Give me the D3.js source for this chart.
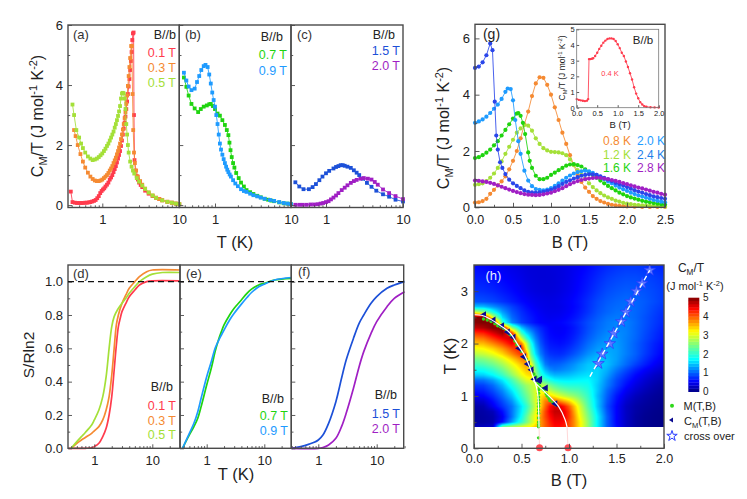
<!DOCTYPE html>
<html><head><meta charset="utf-8">
<script src="https://cdn.jsdelivr.net/npm/d3@7"></script>
<style>html,body{margin:0;padding:0;background:#fff}svg{display:block}text{font-family:"Liberation Sans",Arial,sans-serif;fill:#222}</style>
</head><body><svg id="c" width="747" height="499"></svg>
<script>
// ---- specific heat vs T (panels a-c): [T, CM/T]
const a01=[[.39,.45],[.41,.1],[.44,.08],[.47,.07],[.5,.07],[.53,.07],[.56,.07],[.6,.08],[.63,.08],[.67,.09],[.7,.1],[.74,.12],[.78,.14],[.82,.17],[.86,.23],[.9,.3],[.94,.4],[.98,.47],[1.02,.52],[1.06,.56],[1.1,.62],[1.15,.68],[1.2,.75],[1.25,.85],[1.3,.92],[1.35,1],[1.4,1.1],[1.45,1.2],[1.5,1.3],[1.55,1.42],[1.6,1.55],[1.65,1.67],[1.7,1.8],[1.75,1.97],[1.8,2.15],[1.85,2.35],[1.9,2.55],[1.95,2.75],[2,2.95],[2.05,3.2],[2.1,3.45],[2.15,3.7],[2.2,3.95],[2.25,4.2],[2.3,4.5],[2.35,4.8],[2.4,5.1],[2.45,5.5],[2.5,5.72],[2.55,5.75],[2.58,3],[2.62,1.5],[2.7,1.15],[2.8,.97],[2.9,.85],[3,.75],[3.15,.67],[3.3,.6],[3.6,.48],[4,.38],[4.5,.3],[5,.24],[5.5,.2],[6,.16],[7,.11],[8,.08],[9,.05],[10,.03]];
const a03=[[.43,2.5],[.45,2.3],[.48,2],[.52,1.7],[.56,1.45],[.6,1.25],[.65,1.08],[.7,.95],[.75,.87],[.8,.82],[.85,.8],[.9,.8],[.95,.82],[1,.85],[1.05,.9],[1.1,.95],[1.15,1],[1.2,1.07],[1.25,1.15],[1.3,1.22],[1.35,1.3],[1.4,1.4],[1.45,1.49],[1.5,1.58],[1.55,1.69],[1.6,1.8],[1.65,1.92],[1.7,2.05],[1.75,2.2],[1.8,2.35],[1.85,2.52],[1.9,2.7],[1.95,2.9],[2,3.1],[2.05,3.37],[2.1,3.65],[2.15,3.97],[2.2,4.3],[2.25,4.6],[2.3,4.9],[2.37,5.3],[2.42,5.3],[2.47,3.7],[2.52,2.5],[2.58,1.75],[2.65,1.4],[2.75,1.15],[2.9,.95],[3.1,.8],[3.3,.68],[3.6,.55],[4,.42],[4.5,.32],[5,.25],[5.5,.2],[6,.16],[7,.11],[8,.08],[9,.05],[10,.03]];
const a05=[[.41,3.35],[.43,3],[.46,2.5],[.5,2.25],[.53,2.05],[.56,1.9],[.6,1.75],[.65,1.62],[.7,1.55],[.75,1.5],[.8,1.52],[.85,1.55],[.9,1.6],[.95,1.66],[1,1.72],[1.05,1.8],[1.1,1.88],[1.15,1.97],[1.2,2.05],[1.25,2.15],[1.3,2.25],[1.35,2.35],[1.4,2.45],[1.45,2.58],[1.5,2.7],[1.55,2.83],[1.6,2.97],[1.65,3.12],[1.7,3.3],[1.75,3.55],[1.8,3.72],[1.85,3.74],[1.9,3.72],[1.95,3.55],[2,3.2],[2.05,2.7],[2.1,2.35],[2.15,2],[2.2,1.75],[2.3,1.45],[2.4,1.28],[2.5,1.15],[2.6,1.05],[2.8,.9],[3,.78],[3.3,.65],[3.6,.54],[4,.42],[4.5,.32],[5,.24],[6,.16],[7,.11],[8,.08],[9,.05],[10,.03]];
const b07=[[.39,4.25],[.42,3.94],[.45,3.65],[.49,3.37],[.54,3.22],[.6,3.1],[.65,3.2],[.71,3.28],[.78,3.32],[.84,3.36],[.88,3.37],[.94,3.3],[1,3.2],[1.08,3.05],[1.16,2.98],[1.25,2.83],[1.35,2.67],[1.43,2.5],[1.5,2.33],[1.55,2.08],[1.6,1.83],[1.66,1.6],[1.73,1.4],[1.8,1.25],[1.9,1.07],[2.05,.9],[2.2,.75],[2.4,.62],[2.6,.5],[2.9,.43],[3.2,.37],[3.6,.31],[4,.26],[4.5,.21],[5,.18],[5.5,.15],[6,.13],[7,.09],[8,.06],[9,.05],[10,.03]];
const b09=[[.39,4.41],[.42,4.15],[.45,3.95],[.49,3.83],[.54,3.88],[.58,4.1],[.62,4.3],[.66,4.5],[.71,4.63],[.75,4.67],[.8,4.6],[.84,4.35],[.88,4.05],[.92,3.75],[.96,3.5],[1,3.28],[1.04,3],[1.08,2.7],[1.12,2.35],[1.16,2.05],[1.2,1.85],[1.25,1.68],[1.3,1.53],[1.35,1.4],[1.4,1.28],[1.45,1.18],[1.5,1.1],[1.56,1.02],[1.62,.95],[1.73,.83],[1.85,.72],[2,.63],[2.2,.53],[2.4,.47],[2.6,.44],[2.9,.38],[3.2,.33],[3.6,.29],[4,.25],[4.5,.21],[5.3,.17],[6,.14],[7,.1],[8,.07],[9,.05],[10,.03]];
const c15=[[.4,.76],[.45,.62],[.51,.53],[.6,.53],[.67,.6],[.74,.7],[.82,.83],[.9,.95],[1,1.06],[1.1,1.14],[1.25,1.22],[1.35,1.27],[1.45,1.3],[1.55,1.33],[1.65,1.33],[1.75,1.31],[1.9,1.28],[2.1,1.24],[2.3,1.16],[2.5,1.08],[2.7,1],[3,.88],[3.4,.74],[3.9,.61],[4.5,.48],[5.5,.36],[6.6,.28],[8,.18],[10,.12]];
const c20=[[.4,.01],[.45,.01],[.5,.01],[.56,.01],[.63,.02],[.7,.02],[.78,.03],[.85,.05],[.92,.07],[1,.1],[1.08,.13],[1.16,.19],[1.25,.25],[1.35,.32],[1.45,.4],[1.6,.5],[1.75,.58],[1.9,.66],[2.1,.74],[2.3,.8],[2.5,.84],[2.8,.88],[3.1,.9],[3.5,.88],[3.9,.85],[4.3,.77],[4.7,.68],[5.5,.52],[6.6,.4],[8,.3],[10,.2]];
// ---- specific heat vs B (panel g): [B, CM/T]
const g08=[[0,.17],[.05,.18],[.1,.22],[.15,.3],[.2,.48],[.25,.62],[.3,.78],[.35,.92],[.4,1.1],[.45,1.35],[.5,1.65],[.55,2],[.6,2.45],[.65,2.95],[.7,3.4],[.75,3.95],[.8,4.4],[.85,4.62],[.9,4.6],[.95,4.35],[1,4],[1.05,3.55],[1.1,3.1],[1.15,2.65],[1.2,2.25],[1.25,1.85],[1.3,1.5],[1.35,1.15],[1.4,.9],[1.45,.7],[1.5,.55],[1.55,.4],[1.6,.3],[1.65,.22],[1.7,.17],[1.75,.12],[1.8,.09],[1.85,.07],[1.9,.05],[1.95,.04],[2,.03],[2.1,.02],[2.2,.01],[2.3,.01],[2.4,.01],[2.5,.01]];
const g12=[[0,.8],[.05,.82],[.1,.85],[.15,.93],[.2,1.05],[.25,1.2],[.3,1.4],[.35,1.63],[.4,1.9],[.45,2.15],[.5,2.4],[.55,2.65],[.6,2.8],[.65,2.92],[.7,2.9],[.75,2.72],[.8,2.45],[.85,2.25],[.9,2.1],[.95,2.02],[1,1.97],[1.05,1.96],[1.1,1.95],[1.15,1.92],[1.2,1.85],[1.25,1.7],[1.3,1.5],[1.35,1.32],[1.4,1.15],[1.45,1],[1.5,.85],[1.55,.72],[1.6,.6],[1.65,.5],[1.7,.42],[1.75,.35],[1.8,.3],[1.85,.24],[1.9,.2],[1.95,.16],[2,.13],[2.05,.11],[2.1,.09],[2.15,.08],[2.2,.07],[2.25,.06],[2.3,.05],[2.35,.04],[2.4,.04],[2.45,.03],[2.5,.03]];
const g16=[[0,1.75],[.05,1.78],[.1,1.85],[.15,1.94],[.2,2.05],[.25,2.2],[.3,2.35],[.35,2.55],[.4,2.75],[.45,2.95],[.5,3.15],[.55,3.33],[.57,3.35],[.6,3.25],[.63,3],[.66,2.6],[.7,1.95],[.72,1.65],[.75,1.4],[.8,1.12],[.85,1],[.9,1],[.95,1.05],[1,1.15],[1.05,1.23],[1.1,1.32],[1.15,1.4],[1.2,1.48],[1.25,1.52],[1.3,1.53],[1.35,1.5],[1.4,1.45],[1.45,1.35],[1.5,1.25],[1.55,1.15],[1.6,1.05],[1.65,.95],[1.7,.85],[1.75,.76],[1.8,.68],[1.85,.6],[1.9,.52],[1.95,.46],[2,.4],[2.05,.35],[2.1,.31],[2.15,.27],[2.2,.23],[2.25,.2],[2.3,.18],[2.35,.15],[2.4,.13],[2.45,.11],[2.5,.1]];
const g20=[[0,3],[.05,3.05],[.1,3.12],[.15,3.22],[.2,3.35],[.25,3.5],[.3,3.65],[.35,3.85],[.4,4.1],[.43,4.22],[.47,4.2],[.5,3.8],[.53,3.1],[.57,2.35],[.6,1.9],[.65,1.3],[.7,.95],[.75,.75],[.8,.65],[.85,.62],[.9,.6],[.95,.63],[1,.68],[1.05,.76],[1.1,.85],[1.15,.95],[1.2,1.05],[1.25,1.13],[1.3,1.2],[1.35,1.25],[1.4,1.28],[1.45,1.3],[1.5,1.28],[1.55,1.22],[1.6,1.15],[1.65,1.08],[1.7,1],[1.75,.92],[1.8,.85],[1.85,.77],[1.9,.7],[1.95,.64],[2,.58],[2.05,.52],[2.1,.47],[2.15,.42],[2.2,.38],[2.25,.34],[2.3,.3],[2.35,.26],[2.4,.23],[2.45,.2],[2.5,.18]];
const g24=[[0,4.95],[.05,5],[.1,5.15],[.15,5.4],[.2,5.82],[.23,5.58],[.26,3.75],[.28,2.55],[.3,2.05],[.33,1.6],[.36,1.4],[.4,1.18],[.45,.98],[.5,.85],[.55,.76],[.6,.68],[.65,.6],[.7,.55],[.75,.53],[.8,.52],[.85,.53],[.9,.55],[.95,.58],[1,.62],[1.05,.68],[1.1,.75],[1.15,.83],[1.2,.9],[1.25,.96],[1.3,1.02],[1.35,1.07],[1.4,1.12],[1.45,1.15],[1.5,1.17],[1.55,1.17],[1.6,1.15],[1.65,1.1],[1.7,1.05],[1.75,.99],[1.8,.93],[1.85,.87],[1.9,.82],[1.95,.77],[2,.72],[2.05,.66],[2.1,.61],[2.15,.56],[2.2,.52],[2.25,.47],[2.3,.43],[2.35,.39],[2.4,.36],[2.45,.33],[2.5,.3]];
const g28=[[0,.95],[.05,.94],[.1,.92],[.15,.9],[.2,.87],[.25,.83],[.3,.78],[.35,.73],[.4,.68],[.45,.63],[.5,.58],[.55,.54],[.6,.5],[.65,.47],[.7,.45],[.75,.44],[.8,.43],[.85,.44],[.9,.46],[.95,.49],[1,.52],[1.05,.57],[1.1,.62],[1.15,.68],[1.2,.75],[1.25,.82],[1.3,.88],[1.35,.93],[1.4,.97],[1.45,1],[1.5,1.02],[1.55,1.04],[1.6,1.05],[1.65,1.04],[1.7,1.02],[1.75,1],[1.8,.97],[1.85,.94],[1.9,.9],[1.95,.86],[2,.82],[2.05,.78],[2.1,.74],[2.15,.7],[2.2,.67],[2.25,.63],[2.3,.59],[2.35,.55],[2.4,.52],[2.45,.48],[2.5,.45]];
const inset04=[[0,.55],[.05,.5],[.1,.47],[.15,.44],[.2,.42],[.25,.45],[.28,.55],[.3,3.1],[.33,3.1],[.37,3.12],[.4,3.15],[.45,3.3],[.5,3.5],[.55,3.75],[.6,3.95],[.65,4.15],[.7,4.28],[.75,4.38],[.8,4.42],[.85,4.42],[.9,4.38],[.95,4.25],[1,4.05],[1.05,3.8],[1.1,3.5],[1.15,3.3],[1.2,2.95],[1.25,2.6],[1.3,2.2],[1.35,1.8],[1.4,1.3],[1.45,.9],[1.5,.6],[1.55,.35],[1.6,.2],[1.65,.1],[1.7,.06],[1.8,.03],[1.9,.02],[2,.01]];
// ---- entropy (panels d-f): [T, S/Rln2]
const d01=[[.36,0],[.7,0],[.9,.003],[1,.01],[1.2,.03],[1.4,.07],[1.6,.12],[1.8,.2],[2,.31],[2.2,.47],[2.4,.62],[2.6,.73],[2.8,.78],[3,.82],[3.5,.87],[4,.91],[5,.95],[6,.98],[8,1],[10,1.005],[30,1.005]];
const d03=[[.4,0],[.5,.03],[.6,.05],[.7,.065],[.9,.09],[1,.105],[1.2,.13],[1.4,.17],[1.6,.23],[1.8,.31],[2,.44],[2.2,.6],[2.4,.74],[2.6,.8],[3,.87],[3.5,.92],[4,.96],[5,1],[6,1.03],[8,1.06],[10,1.07],[30,1.07]];
const d05=[[.4,0],[.5,.04],[.6,.07],[.7,.095],[.9,.14],[1,.17],[1.2,.23],[1.4,.31],[1.6,.43],[1.8,.6],[2,.73],[2.2,.79],[2.5,.83],[3,.87],[3.5,.9],[4,.93],[5,.97],[6,1],[8,1.03],[10,1.045],[15,1.055],[30,1.055]];
const e07=[[.38,0],[.5,.08],[.6,.13],[.7,.18],[.8,.25],[1,.38],[1.2,.48],[1.4,.58],[1.6,.65],[1.8,.7],[2,.74],[2.5,.8],[3,.84],[4,.89],[5,.93],[6,.955],[8,.98],[10,.99],[15,1.01],[30,1.02]];
const e09=[[.38,0],[.5,.09],[.6,.15],[.7,.22],[.8,.3],[1,.43],[1.2,.52],[1.4,.6],[1.6,.645],[1.8,.68],[2,.71],[2.5,.77],[3,.81],[4,.865],[5,.905],[6,.935],[8,.97],[10,.985],[15,1.01],[30,1.025]];
const f15=[[.35,0],[.5,.01],[.7,.025],[.85,.036],[1,.05],[1.2,.08],[1.5,.15],[2,.28],[2.5,.42],[3,.53],[4,.66],[5,.75],[6,.8],[8,.87],[10,.91],[15,.96],[20,.98],[30,1]];
const f20=[[.35,0],[1,0],[1.2,.005],[1.5,.02],[2,.06],[2.5,.13],[3,.21],[4,.36],[5,.49],[6,.58],[8,.69],[10,.76],[15,.85],[20,.9],[30,.94]];
// ---- phase diagram (panel h)
const mapB=[0,.1,.2,.3,.4,.5,.55,.6,.65,.7,.75,.8,.85,.9,.95,1,1.05,1.1,1.2,1.3,1.4,1.5,1.6,1.7,1.8,1.9,2];
const mapT=[.4,.5,.6,.7,.8,.9,1,1.1,1.2,1.3,1.4,1.5,1.6,1.7,1.8,1.9,2,2.1,2.2,2.3,2.4,2.5,2.6,2.7,2.8,3,3.25,3.5];
const mapC=[
[.3,.3,.35,2.6,2.9,3.1,3.2,3.3,3.5,3.7,4,4.2,4.4,4.4,4.3,4.1,3.8,3.4,2.6,1.7,1,.6,.3,.15,.08,.05,.03],
[.15,.15,.2,.6,1.3,2,2.4,2.8,3.2,3.7,4,4.3,4.5,4.5,4.4,4.1,3.8,3.4,2.6,1.7,1,.55,.3,.15,.08,.05,.03],
[.12,.15,.2,.5,1.1,1.8,2.3,2.8,3.2,3.7,4.1,4.4,4.6,4.6,4.5,4.2,3.8,3.3,2.5,1.7,1,.55,.3,.15,.08,.05,.03],
[.14,.17,.25,.6,1.1,1.7,2.1,2.6,3.1,3.6,4.1,4.5,4.7,4.7,4.5,4.2,3.7,3.2,2.4,1.6,.95,.55,.3,.17,.1,.06,.04],
[.17,.22,.48,.78,1.1,1.65,2,2.45,2.95,3.4,3.95,4.4,4.62,4.6,4.35,4,3.55,3.1,2.25,1.5,.9,.55,.3,.18,.12,.08,.05],
[.3,.35,.6,.9,1.25,1.85,2.2,2.6,3,3.4,3.8,4,4,3.8,3.6,3.4,3.1,2.8,2.15,1.5,.95,.6,.35,.22,.15,.1,.06],
[.5,.55,.75,1.05,1.45,2.05,2.35,2.65,3,3.3,3.5,3.4,3.2,3,2.85,2.7,2.6,2.45,2.05,1.45,1,.65,.42,.27,.18,.12,.08],
[.65,.7,.9,1.2,1.65,2.2,2.5,2.75,3,3.1,3,2.85,2.65,2.5,2.4,2.3,2.25,2.2,1.95,1.5,1.05,.75,.5,.35,.24,.16,.1],
[.8,.85,1.05,1.4,1.9,2.4,2.65,2.8,2.92,2.9,2.72,2.45,2.25,2.1,2.02,1.97,1.96,1.95,1.85,1.5,1.15,.85,.6,.42,.3,.2,.13],
[1.05,1.1,1.3,1.65,2.15,2.75,3,3.1,2.7,2.4,2.1,1.9,1.75,1.7,1.68,1.68,1.7,1.72,1.75,1.55,1.2,.9,.68,.5,.36,.26,.18],
[1.5,1.55,1.75,2.1,2.6,3.1,3.3,3.4,2.6,2,1.7,1.5,1.4,1.4,1.42,1.45,1.5,1.55,1.62,1.55,1.3,1,.78,.58,.44,.32,.24],
[1.8,1.85,2.05,2.4,2.85,3.3,3.5,3.5,2.4,1.8,1.4,1.2,1.12,1.15,1.2,1.25,1.32,1.4,1.52,1.55,1.38,1.12,.9,.7,.54,.42,.32],
[2.1,2.2,2.4,2.7,3.1,3.5,3.7,3.2,2.2,1.6,1.15,1,1,1.02,1.08,1.15,1.22,1.32,1.48,1.53,1.45,1.25,1.05,.85,.68,.52,.4],
[2.4,2.5,2.7,3,3.4,3.8,3.9,2.7,1.9,1.35,1,.9,.86,.87,.92,1,1.08,1.16,1.36,1.45,1.42,1.3,1.1,.95,.76,.6,.46],
[2.8,2.9,3.1,3.4,3.8,4.2,3.8,2.3,1.6,1.15,.9,.78,.75,.74,.78,.85,.93,1.02,1.22,1.35,1.38,1.3,1.15,1,.82,.66,.52],
[3.1,3.2,3.4,3.7,4.1,4.4,3.2,2.1,1.45,1.05,.82,.7,.68,.67,.7,.76,.84,.92,1.12,1.27,1.33,1.3,1.15,1,.84,.68,.55],
[3.5,3.55,3.8,4.1,4.5,3.8,2.9,1.9,1.3,.95,.75,.65,.62,.6,.63,.68,.76,.85,1.05,1.2,1.28,1.28,1.15,1,.85,.7,.58],
[3.8,3.9,4.2,4.5,4.7,2.9,2.1,1.55,1.15,.87,.7,.6,.57,.56,.58,.63,.7,.79,.98,1.13,1.23,1.25,1.15,1.03,.88,.75,.62],
[4.2,4.3,4.6,4.9,4.2,2.1,1.6,1.3,1,.8,.66,.57,.54,.53,.55,.6,.66,.74,.93,1.08,1.18,1.22,1.16,1.04,.9,.77,.65],
[4.7,4.8,5,5,2.6,1.5,1.2,1,.85,.72,.62,.55,.52,.52,.54,.58,.64,.72,.9,1.04,1.14,1.18,1.15,1.04,.92,.8,.68],
[4.95,5,5,2.05,1.18,.85,.76,.68,.6,.55,.53,.52,.53,.55,.58,.62,.68,.75,.9,1.02,1.12,1.17,1.15,1.05,.93,.82,.72],
[5,5,3,1.6,1.05,.8,.72,.65,.58,.53,.5,.48,.49,.5,.53,.57,.62,.68,.84,.97,1.08,1.12,1.1,1.03,.93,.83,.73],
[3,2.6,1.9,1.3,.95,.75,.67,.6,.55,.5,.47,.46,.46,.47,.5,.53,.58,.64,.78,.93,1.02,1.08,1.09,1.03,.95,.85,.76],
[1.5,1.45,1.25,1.05,.85,.68,.6,.55,.5,.47,.45,.44,.44,.45,.48,.52,.56,.61,.76,.9,1,1.05,1.06,1.03,.96,.87,.79],
[.95,.92,.87,.78,.68,.58,.54,.5,.47,.45,.44,.43,.44,.46,.49,.52,.57,.62,.75,.88,.97,1.02,1.05,1.02,.97,.9,.82],
[.78,.76,.72,.65,.58,.5,.46,.43,.41,.4,.39,.39,.4,.42,.45,.48,.52,.57,.68,.8,.9,.95,.98,.97,.93,.88,.82],
[.68,.66,.62,.56,.5,.45,.42,.4,.39,.38,.38,.38,.39,.41,.43,.46,.5,.54,.63,.73,.82,.87,.9,.9,.87,.83,.78],
[.58,.56,.53,.48,.44,.41,.39,.38,.38,.38,.38,.39,.4,.41,.43,.45,.48,.5,.57,.65,.72,.77,.8,.8,.78,.75,.7]];
const phaseA=[[0,2.55],[.08,2.54],[.17,2.47],[.28,2.34],[.38,2.2],[.46,1.98],[.54,1.75],[.58,1.58],[.62,1.37],[.65,1.22],[.67,1.05],[.68,.73],[.685,.4]];
const phaseA2=[[.685,.4],[.69,0]];
const phaseB=[[.62,1.3],[.65,1.24],[.76,1.05],[.89,.8],[.96,.54],[.98,.4]];
const phaseB2=[[.98,.4],[.99,0]];
const crossDash=[[1.22,1.37],[1.85,3.4]];
const mPts=[[.1,2.47],[.14,2.45],[.18,2.42],[.22,2.38],[.25,2.34],[.28,2.32],[.31,2.29],[.34,2.24],[.36,2.2],[.38,2.17],[.4,2.13],[.43,2.05],[.45,1.98],[.48,1.91],[.5,1.85],[.53,1.77],[.55,1.7],[.57,1.63],[.59,1.56],[.61,1.49],[.63,1.42],[.65,1.36],[.66,1.3],[.68,1.24],[.69,1.18],[.72,1.14],[.74,1.11],[.76,1.04],[.77,1],[.79,.95],[.8,.91],[.83,.87],[.86,.83],[.68,1.12],[.68,1.05],[.68,.98],[.68,.92],[.68,.86],[.68,.8],[.68,.73],[.68,.67],[.68,.58],[.68,.5],[.68,.45],[.68,.41],[.68,.2]];
const cPts=[[.1,2.55],[.2,2.45],[.29,2.34],[.35,2.22],[.41,2.12],[.47,1.91],[.52,1.75],[.56,1.61],[.6,1.5],[.63,1.32],[.68,1.29],[.69,1.32],[.75,1.15],[.85,.85]];
const crossPts=[[1.31,1.62],[1.35,1.8],[1.43,2],[1.47,2.2],[1.55,2.42],[1.6,2.6],[1.65,2.8],[1.71,3],[1.77,3.15],[1.85,3.4]];
const criticalB=[.69,.99];
const jetStops=[0,.11,.35,.5,.64,.89,1];
const jetColors=["#00007f","#0000ff","#00ffff","#7fff7f","#ffff00","#ff0000","#7f0000"];
const cbTicks=[0,1,2,3,4,5];
// ---- colours
const col={r:"#ff3b4d",o:"#f58a32",l:"#a4e038",g:"#1fd40f",s:"#1e9bff",b:"#1c50d8",p:"#a01fc4",gb:"#2a46ea"};

const svg=d3.select("#c");
const AXC="#4a4a4a";
function rich(sel,parts,size){
  parts.forEach(([t,k],i)=>{
    const s=sel.append("tspan").text(t).attr("font-size",k?size*.68:size);
    const d=k==="sub"?size*.28:k==="sup"?-size*.38:0;
    const prev=i?parts[i-1][1]:null;
    const pd=prev==="sub"?size*.28:prev==="sup"?-size*.38:0;
    if(d-pd) s.attr("dy",d-pd);
  });
}
function txt(x,y,t,o={}){
  const e=svg.append("text").attr("x",x).attr("y",y).attr("font-size",o.size||13).attr("text-anchor",o.anchor||"start").attr("fill",o.fill||"#222").style("fill",o.fill||"#222").text(t);
  if(o.rot) e.attr("transform",`rotate(${o.rot} ${x} ${y})`);
  return e;
}
function cmLabel(x,y,size,rot=-90){
  const e=svg.append("text").attr("transform",`translate(${x},${y}) rotate(${rot})`).attr("text-anchor","middle");
  rich(e,[["C"],["M","sub"],["/T (J mol"],["-1","sup"],[" K"],["-2","sup"],[")"]],size);
}
function st(s){s.select(".domain").remove();s.selectAll("line").attr("stroke",AXC).attr("stroke-width",.9);s.selectAll("text").attr("font-family",'"Liberation Sans",Arial,sans-serif').style("fill","#222");}
function logAxes(g,x,y,L,R,T,B,showY,yt,ytm,fmt,xt,tick=4){
  const lbl=[1,10];
  const minor=xt.filter(v=>!lbl.includes(v));
  g.append("g").attr("transform",`translate(0,${B})`).call(d3.axisBottom(x).tickValues(minor).tickSize(-tick*.55).tickFormat("")).call(st);
  g.append("g").attr("transform",`translate(0,${B})`).call(d3.axisBottom(x).tickValues(lbl).tickSize(-tick).tickPadding(5).tickFormat(d3.format("d"))).call(st).selectAll("text").attr("font-size",13).attr("dy","0.9em");
  g.append("g").attr("transform",`translate(${L},0)`).call(d3.axisLeft(y).tickValues(ytm).tickSize(-tick*.55).tickFormat("")).call(st);
  const ax=g.append("g").attr("transform",`translate(${L},0)`).call(d3.axisLeft(y).tickValues(yt).tickSize(-tick).tickPadding(5).tickFormat(showY?fmt:"")).call(st);
  ax.selectAll("text").attr("font-size",13);
  g.append("rect").attr("x",L).attr("y",T).attr("width",R-L).attr("height",B-T).attr("fill","none").attr("stroke",AXC).attr("stroke-width",1.4);
}
function series(g,x,y,data,c,shape,r){
  g.append("path").datum(data).attr("fill","none").attr("stroke",c).attr("stroke-opacity",.85).attr("stroke-width",1).attr("d",d3.line().x(d=>x(d[0])).y(d=>y(d[1])));
  const s=g.selectAll(null).data(data);
  if(shape==="sq") s.enter().append("rect").attr("x",d=>x(d[0])-r).attr("y",d=>y(d[1])-r).attr("width",2*r).attr("height",2*r).attr("fill",c);
  else s.enter().append("circle").attr("cx",d=>x(d[0])).attr("cy",d=>y(d[1])).attr("r",r).attr("fill",c);
}
function smooth(g,x,y,data,c){
  g.append("path").datum(data).attr("fill","none").attr("stroke",c).attr("stroke-width",1.7).attr("d",d3.line().curve(d3.curveCatmullRom.alpha(.5)).x(d=>x(d[0])).y(d=>y(d[1])));
}
function legend(rx,items,size=12.5){items.forEach(([t,yy,c])=>txt(rx,yy,t,{anchor:"end",size,fill:c}));}

// ------- a,b,c
const minorT=[.4,.5,.6,.7,.8,.9,2,3,4,5,6,7,8,9];
const yAC=d3.scaleLinear().domain([-.08,6]).range([207.5,25]);
const acTicks=[0,2,4,6], acMinor=[1,3,5];
[
 {L:68,R:179.3,one:102.3,id:"(a)",idx:73,sets:[[a01,col.r],[a03,col.o],[a05,col.l]]},
 {L:179.3,R:291,one:215,id:"(b)",idx:185,sets:[[b07,col.g],[b09,col.s]]},
 {L:291,R:403,one:326,id:"(c)",idx:297,sets:[[c15,col.b],[c20,col.p]]}
].forEach((p,i)=>{
  const dec=p.R-p.one;
  const x=d3.scaleLog().domain([Math.pow(10,(p.L-p.one)/dec),10]).range([p.L,p.R]);
  const g=svg.append("g");
  p.sets.forEach(([d,c])=>series(g,x,yAC,d,c,"sq",1.9));
  logAxes(g,x,yAC,p.L,p.R,25,207.5,i===0,acTicks,acMinor,d3.format("d"),minorT);
  txt(p.idx,39,p.id,{size:13,fill:"#333"});
});
legend(176,[["B//b",39,"#222"],["0.1 T",57,col.r],["0.3 T",72,col.o],["0.5 T",87,col.l]]);
legend(283,[["B//b",41,"#222"]]);legend(287,[["0.7 T",59,col.g],["0.9 T",75,col.s]]);
legend(395,[["B//b",39,"#222"]]);legend(400,[["1.5 T",55,col.b],["2.0 T",70,col.p]]);
cmLabel(43,116,16);
txt(235,248,"T (K)",{size:16.5,anchor:"middle"});

// ------- d,e,f
const yDF=d3.scaleLinear().domain([0,1.1]).range([448.3,265]);
const dfTicks=[0,.2,.4,.6,.8,1], dfMinor=[.1,.3,.5,.7,.9];
const minorS=[.4,.5,.6,.7,.8,.9,2,3,4,5,6,7,8,9,20,30];
[
 {L:68,R:180,one:94.3,ten:152.3,id:"(d)",idx:73,idy:278,sets:[[d01,col.r],[d03,col.o],[d05,col.l]]},
 {L:180,R:291.3,one:206.7,ten:264.3,id:"(e)",idx:186,idy:278,sets:[[e07,col.g],[e09,col.s]]},
 {L:291.3,R:403.7,one:318.3,ten:376.7,id:"(f)",idx:298,idy:276,sets:[[f15,col.b],[f20,col.p]]}
].forEach((p,i)=>{
  const dec=p.ten-p.one;
  const x=d3.scaleLog().domain([Math.pow(10,(p.L-p.one)/dec),Math.pow(10,(p.R-p.one)/dec)]).range([p.L,p.R]);
  const g=svg.append("g");
  p.sets.forEach(([d,c])=>smooth(g,x,yDF,d,c));
  logAxes(g,x,yDF,p.L,p.R,265,448.3,i===0,dfTicks,dfMinor,d3.format(".1f"),minorS);
  txt(p.idx,p.idy,p.id,{size:13,fill:"#333"});
});
svg.append("line").attr("x1",68).attr("x2",403.7).attr("y1",yDF(1)).attr("y2",yDF(1)).attr("stroke","#111").attr("stroke-width",1.2).attr("stroke-dasharray","6 4");
legend(173,[["B//b",391,"#222"]]);legend(176,[["0.1 T",410,col.r],["0.3 T",425,col.o],["0.5 T",439,col.l]]);
legend(284,[["B//b",403,"#222"]]);legend(288,[["0.7 T",420,col.g],["0.9 T",435,col.s]]);
legend(397,[["B//b",399,"#222"]]);legend(400,[["1.5 T",418,col.b],["2.0 T",433,col.p]]);
txt(29,355,"S/Rln2",{size:15.5,anchor:"middle",rot:-90}).attr("dy",".35em");
txt(236,480,"T (K)",{size:16.5,anchor:"middle"});

// ------- g
{
  const L=475,R=665,T=24.3,B=207.3;
  const x=d3.scaleLinear().domain([0,2.5]).range([L,R]);
  const y=d3.scaleLinear().domain([0,6.5]).range([B,T]);
  const g=svg.append("g");
  [[g08,col.o],[g12,col.l],[g16,col.g],[g20,col.s],[g24,col.gb],[g28,col.p]].forEach(([d,c])=>series(g,x,y,d,c,"c",2.1));
  g.append("g").attr("transform",`translate(0,${B})`).call(d3.axisBottom(x).tickValues([.25,.75,1.25,1.75,2.25]).tickSize(-2.5).tickFormat("")).call(st);
  g.append("g").attr("transform",`translate(0,${B})`).call(d3.axisBottom(x).tickValues([0,.5,1,1.5,2,2.5]).tickSize(-4.5).tickPadding(5).tickFormat(d3.format(".1f"))).call(st).selectAll("text").attr("font-size",12.5).attr("dy","0.9em");
  g.append("g").attr("transform",`translate(${L},0)`).call(d3.axisLeft(y).tickValues([1,3,5]).tickSize(-2.5).tickFormat("")).call(st);
  g.append("g").attr("transform",`translate(${L},0)`).call(d3.axisLeft(y).tickValues([0,2,4,6]).tickSize(-4.5).tickPadding(5).tickFormat(d3.format("d"))).call(st).selectAll("text").attr("font-size",13);
  g.append("rect").attr("x",L).attr("y",T).attr("width",R-L).attr("height",B-T).attr("fill","none").attr("stroke",AXC).attr("stroke-width",1.4);
  txt(491.5,39,"(g)",{size:14,anchor:"middle"});
  [["0.8 K",145,col.o,603],["1.2 K",158.5,col.l,603],["1.6 K",172,col.g,603],["2.0 K",145,col.s,637],["2.4 K",158.5,"#1f7fea",637],["2.8 K",172,col.p,637]].forEach(([t,yy,c,xx])=>txt(xx,yy,t,{size:12,fill:c}));
  cmLabel(449,128,16);
  txt(570,248,"B (T)",{size:16.5,anchor:"middle"});
  // inset
  const iL=576.7,iR=658.7,iT=29.3,iB=107.7;
  const ix=d3.scaleLinear().domain([0,2]).range([iL,iR]);
  const iy=d3.scaleLinear().domain([0,5]).range([iB,iT]);
  const h=svg.append("g");
  h.append("rect").attr("x",iL).attr("y",iT).attr("width",iR-iL).attr("height",iB-iT).attr("fill","#fff");
  series(h,ix,iy,inset04,col.r,"c",1.2);
  h.append("g").attr("transform",`translate(0,${iB})`).call(d3.axisBottom(ix).tickValues([0,.5,1,1.5,2]).tickSize(-2.5).tickPadding(2.5).tickFormat(d3.format(".1f"))).call(st).selectAll("text").attr("font-size",7.5);
  h.append("g").attr("transform",`translate(${iL},0)`).call(d3.axisLeft(iy).tickValues([0,1,2,3,4,5]).tickSize(-2.5).tickPadding(2).tickFormat(d3.format("d"))).call(st).selectAll("text").attr("font-size",7.5);
  h.append("rect").attr("x",iL).attr("y",iT).attr("width",iR-iL).attr("height",iB-iT).attr("fill","none").attr("stroke","#777").attr("stroke-width",.8);
  txt(643,44,"B//b",{size:11.5,anchor:"middle"});
  txt(610,76,"0.4 K",{size:7.5,anchor:"middle",fill:col.r});
  cmLabel(565,68,8.5);
  txt(620,128,"B (T)",{size:9.5,anchor:"middle"});
}

// ------- h
{
  const L=474,R=664,T=265,B=448.3;
  const x=d3.scaleLinear().domain([0,2]).range([L,R]);
  const y=d3.scaleLinear().domain([0,3.5]).range([B,T]);
  const jet=d3.scaleLinear().domain(jetStops.map(v=>v*5)).range(jetColors).clamp(true);
  const W=Math.round(R-L),H=Math.round(y(.4)-T);
  const cv=document.createElement("canvas");cv.width=W;cv.height=H;
  const ctx=cv.getContext("2d");
  function val(b,t){
    const ci=Math.min(Math.max(d3.bisectRight(mapB,b)-1,0),mapB.length-2);
    const ri=Math.min(Math.max(d3.bisectRight(mapT,t)-1,0),mapT.length-2);
    const u=(b-mapB[ci])/(mapB[ci+1]-mapB[ci]),v=(t-mapT[ri])/(mapT[ri+1]-mapT[ri]);
    return (1-v)*((1-u)*mapC[ri][ci]+u*mapC[ri][ci+1])+v*((1-u)*mapC[ri+1][ci]+u*mapC[ri+1][ci+1]);
  }
  for(let j=0;j<H;j++)for(let i=0;i<W;i++){
    ctx.fillStyle=jet(val(x.invert(L+i+.5),y.invert(T+j+.5)));
    ctx.fillRect(i,j,1,1);
  }
  const g=svg.append("g");
  g.append("image").attr("x",L).attr("y",T).attr("width",W).attr("height",H).attr("href",cv.toDataURL());
  const ln=d3.line().x(d=>x(d[0])).y(d=>y(d[1]));
  g.selectAll(null).data(mPts).enter().append("circle").attr("cx",d=>x(d[0])).attr("cy",d=>y(d[1])).attr("r",1.7).attr("fill","#2ed81a");
  const tri=d=>{const a=x(d[0]),b=y(d[1]);return `M${a-3.5},${b}L${a+2.5},${b-3.5}L${a+2.5},${b+3.5}Z`;};
  g.selectAll(null).data(cPts).enter().append("path").attr("d",tri).attr("fill","#0a0a90");
  const star=d3.symbol().type(d3.symbolStar).size(42);
  g.selectAll(null).data(crossPts).enter().append("path").attr("transform",d=>`translate(${x(d[0])},${y(d[1])})`).attr("d",star).attr("fill","#5f78ff").attr("stroke","#2a3cff").attr("stroke-width",.7);
  const curved=d3.line().curve(d3.curveCatmullRom).x(d=>x(d[0])).y(d=>y(d[1]));
  g.append("path").datum(phaseA).attr("fill","none").attr("stroke","#fff").attr("stroke-width",1.2).attr("d",curved);
  g.append("path").datum(phaseB).attr("fill","none").attr("stroke","#fff").attr("stroke-width",1.2).attr("d",curved);
  g.append("path").datum(phaseA2).attr("fill","none").attr("stroke","#ffd8d8").attr("stroke-width",1).attr("d",ln);
  g.append("path").datum(phaseB2).attr("fill","none").attr("stroke","#ffd8d8").attr("stroke-width",1).attr("d",ln);
  g.append("path").datum(crossDash).attr("fill","none").attr("stroke","#fff").attr("stroke-width",1.4).attr("stroke-dasharray","5 3.5").attr("d",ln);
  g.selectAll(null).data(criticalB).enter().append("circle").attr("cx",d=>x(d)).attr("cy",y(0)-.5).attr("r",3.5).attr("fill","#ff4d55");
  g.append("g").attr("transform",`translate(0,${B})`).call(d3.axisBottom(x).tickValues([.25,.75,1.25,1.75]).tickSize(-2.5).tickFormat("")).call(st);
  g.append("g").attr("transform",`translate(0,${B})`).call(d3.axisBottom(x).tickValues([0,.5,1,1.5,2]).tickSize(-4.5).tickPadding(4.5).tickFormat(d3.format(".1f"))).call(st).selectAll("text").attr("font-size",12.5).attr("dy","0.8em");
  g.append("g").attr("transform",`translate(${L},0)`).call(d3.axisLeft(y).tickValues([.5,1.5,2.5,3.5]).tickSize(-2.5).tickFormat("")).call(st);
  g.append("g").attr("transform",`translate(${L},0)`).call(d3.axisLeft(y).tickValues([0,1,2,3]).tickSize(-4.5).tickPadding(6).tickFormat(d3.format("d"))).call(st).selectAll("text").attr("font-size",13);
  g.append("rect").attr("x",L).attr("y",T).attr("width",R-L).attr("height",B-T).attr("fill","none").attr("stroke",AXC).attr("stroke-width",1.4);
  txt(485.5,280,"(h)",{size:13,fill:"#e8eeff"});
  txt(450,356,"T (K)",{size:16.5,anchor:"middle",rot:-90}).attr("dy",".35em");
  txt(569,486,"B (T)",{size:16.5,anchor:"middle"});
  // colour bar
  const cy=d3.scaleLinear().domain([0,5]).range([391.7,297.7]);
  const bands=d3.range(0,5,1/6);
  svg.selectAll(null).data(bands).enter().append("rect").attr("x",688.3).attr("width",11).attr("y",d=>cy(d+1/6)).attr("height",d=>cy(d)-cy(d+1/6)+.3).attr("fill",d=>jet(d+1/12));
  svg.selectAll(null).data(cbTicks).enter().append("text").attr("x",703).attr("y",d=>cy(d)+3.5).attr("font-size",10).text(d=>d);
  const t1=svg.append("text").attr("x",691).attr("y",272).attr("text-anchor","middle");rich(t1,[["C"],["M","sub"],["/T"]],12);
  const t2=svg.append("text").attr("x",695).attr("y",290).attr("text-anchor","middle");rich(t2,[["(J mol"],["-1","sup"],[" K"],["-2","sup"],[")"]],11);
  svg.append("circle").attr("cx",672).attr("cy",405.7).attr("r",2).attr("fill","#2ed81a");
  svg.append("path").attr("d","M669,420L673,417.5L673,422.5Z").attr("fill","#0a0a90");
  svg.append("path").attr("transform","translate(672,436)").attr("d",d3.symbol().type(d3.symbolStar).size(34)).attr("fill","#fff").attr("stroke","#2a3cff").attr("stroke-width",1);
  txt(683.5,410,"M(T,B)",{size:11});
  const t3=svg.append("text").attr("x",684).attr("y",425);rich(t3,[["C"],["M","sub"],["(T,B)"]],11);
  txt(684,440,"cross over",{size:11});
}
</script></body></html>
